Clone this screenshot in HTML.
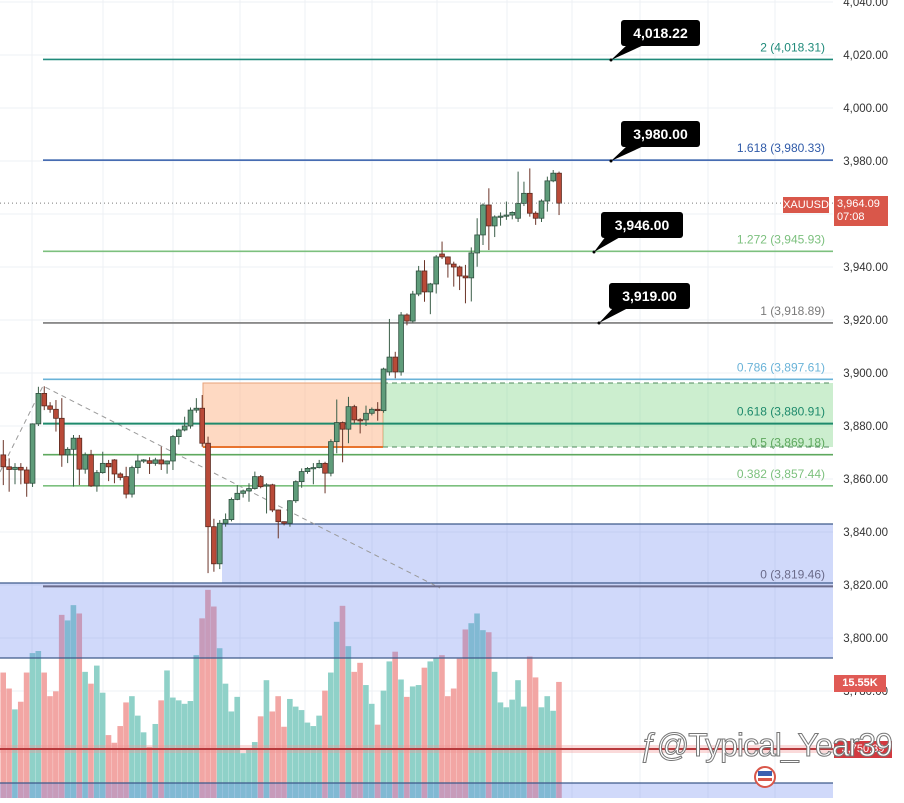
<!DOCTYPE html>
<html><head><meta charset="utf-8">
<style>
html,body{margin:0;padding:0;background:#fff;}
body{width:904px;height:798px;overflow:hidden;font-family:"Liberation Sans",sans-serif;}
svg text{font-family:"Liberation Sans",sans-serif;}
</style></head>
<body>
<svg id="chart" width="904" height="798" viewBox="0 0 904 798" xmlns="http://www.w3.org/2000/svg">
<g id="grid"></g>
<g id="vol"></g>
<g id="zones"></g>
<g id="fib"></g>
<g id="candles"></g>
<g id="axis"></g>
<g id="callouts"></g>
</svg>
<script>
const opens  = [3869.1,3864.6,3863.6,3864.4,3863.4,3858.4,3880.8,3892.3,3887.6,3886.3,3882.9,3869.1,3871.2,3875.4,3863.7,3869.1,3857.4,3862.4,3865.9,3867.2,3861.9,3860.9,3854.3,3864.3,3866.8,3866.9,3865.9,3867.2,3865.7,3866.8,3876,3878.5,3880,3886,3886.7,3873.5,3842,3828,3843.3,3844.7,3852.3,3854.6,3855.5,3856.4,3860.9,3857.5,3857.8,3848.3,3843.9,3843.3,3851.8,3859,3862.8,3864,3864.3,3865.9,3862.2,3874.1,3881.3,3878.8,3887.3,3882.4,3882.3,3884.8,3886.3,3885.8,3900.4,3906,3900.4,3921.9,3919.6,3929.8,3938.5,3930.6,3933.6,3944.9,3943.8,3941.1,3940,3936.6,3935.9,3945.3,3952.1,3963.4,3955.5,3958.9,3959.2,3959.6,3958.4,3964,3967.8,3960.3,3958.4,3964.9,3972.5,3975.4];
const closes = [3864.6,3863.6,3864.4,3863.4,3858.4,3880.8,3892.3,3887.6,3886.3,3882.9,3869.1,3871.2,3875.4,3863.7,3869.1,3857.4,3862.4,3865.9,3864.6,3861.9,3860.6,3854.3,3864.3,3866.8,3867.2,3865.9,3867.2,3865.7,3866.8,3876,3878.5,3880,3886,3886.7,3873.5,3842,3828,3843.3,3844.7,3852.3,3854.6,3855.5,3856.4,3860.9,3857.1,3857.8,3848.3,3843.9,3843.3,3851.8,3859,3862.8,3864,3864.3,3865.9,3862.2,3874.1,3881.3,3878.8,3887.3,3882.3,3882.3,3884.8,3886.3,3885.8,3901.5,3906,3900.4,3921.9,3919.6,3929.8,3938.5,3930.6,3933.6,3943.8,3943.8,3941.1,3940,3936.6,3935.9,3945.3,3952.1,3963.4,3955.5,3958.9,3959.2,3959.6,3960.6,3964,3967.8,3960.3,3958.4,3964.9,3972.5,3975.4,3964.09];
const highs  = [3874.7,3867.8,3866,3866,3864.6,3881,3894.8,3895,3889,3889.8,3890.5,3872,3876.6,3876.6,3870,3871,3863.4,3870.3,3867.2,3867.5,3862.5,3864.6,3865,3869.1,3867.5,3868.2,3868,3872.2,3867,3876.6,3879,3883.5,3887,3890.5,3891.7,3876,3845,3844.5,3847,3853,3857.7,3856,3858.4,3862.8,3861.5,3858.4,3858.2,3848.5,3844,3852,3859.5,3864,3864.5,3866,3867.2,3866.5,3875,3890,3881.7,3891,3888,3883,3887.7,3887,3889,3902,3920.4,3908,3923,3922.5,3931,3940.4,3942.6,3934,3944.5,3949.6,3944,3942,3940.5,3940.8,3947.4,3958.4,3964,3969.7,3959.5,3960.6,3964.7,3961,3976,3972.2,3977.2,3961,3965.5,3974.1,3976.6,3976];
const lows   = [3857.7,3855.2,3858,3858,3853.3,3857,3880,3886,3885,3877.9,3864.6,3866,3857.1,3857.7,3862,3857,3855.2,3862,3859.2,3858.4,3859.5,3852.7,3853,3862,3866,3861.9,3865,3863.4,3862,3863.4,3873,3878,3879,3885,3872.2,3824.5,3825,3826,3842,3844,3852,3853,3851.4,3856,3856.5,3847,3847.5,3837.6,3842.5,3842,3851,3856.7,3862,3858,3864,3854.6,3861,3869.7,3866.3,3873.5,3881,3877.2,3880,3884,3882,3885,3899,3898,3899,3918,3919,3929,3926.9,3922.2,3930,3943,3936,3932.6,3931.3,3926.3,3927,3940.1,3948.3,3946.4,3951.3,3955.6,3957.8,3958,3957,3963,3959,3955.9,3957,3960.9,3972,3959.6];
const volumes = [16.9,14.6,11.6,12.7,16.9,19.7,20.0,16.9,13.5,14.2,25.2,24.4,26.6,25.4,17.0,15.3,17.9,14.0,7.9,6.8,9.2,12.6,13.5,10.7,8.3,6.2,9.5,12.9,17.2,13.3,12.9,12.4,12.8,19.4,24.7,28.8,26.4,20.4,15.3,11.3,13.4,5.3,5.9,6.9,10.6,15.8,11.3,13.5,9.1,13.1,12.0,11.5,9.7,9.2,10.7,14.3,16.9,24.2,26.5,20.7,17.0,18.3,15.1,12.4,9.4,14.3,18.5,19.9,15.9,13.4,14.9,15.1,17.6,18.5,19.0,19.4,13.5,14.6,18.9,23.1,24.0,25.4,23.0,22.7,17.0,12.6,11.9,13.0,15.8,12.0,19.2,16.2,11.9,13.5,11.4,15.55];
const priceTicks = [4040,4020,4000,3980,3960,3940,3920,3900,3880,3860,3840,3820,3800,3780];
const fibRatios = ["2","1.618","1.272","1","0.786","0.618","0.5","0.382","0"];
const fibPrices = [4018.31,3980.33,3945.93,3918.89,3897.61,3880.91,3869.18,3857.44,3819.46];
const calloutPrices = [4018.22,3980.00,3946.00,3919.00];

const NS="http://www.w3.org/2000/svg";
const RIGHT=833;
function y(p){return 585-(p-3820)*2.65;}
function x(i){return 3.3+i*5.85;}
function vy(v){return 790-v*6.95;}
function fmt(p){return p.toLocaleString('en-US',{minimumFractionDigits:2,maximumFractionDigits:2});}
function mk(parent,tag,attrs){const e=document.createElementNS(NS,tag);for(const k in attrs)e.setAttribute(k,attrs[k]);parent.appendChild(e);return e;}

const grid=document.getElementById('grid');
[32,103,173,240,305,372,437,507,572,640,708,775].forEach(gx=>{
  const l=mk(grid,'line',{x1:gx,x2:gx,y1:0,y2:798,stroke:'#eef0f4','stroke-width':1});
  
  
});
priceTicks.forEach(p=>{
  const l=mk(grid,'line',{x1:0,x2:RIGHT,y1:y(p),y2:y(p),stroke:'#eef0f4','stroke-width':1});
  
  
});

const vol=document.getElementById('vol');
const n=Math.min(opens.length,closes.length,highs.length,lows.length);
for(let i=0;i<Math.min(n,volumes.length);i++){
  const up=closes[i]>=opens[i];
  const r=mk(vol,'rect',{x:x(i)-2.9,y:vy(volumes[i]),width:5.6,height:790-vy(volumes[i])+8,fill:up?'#8fd1c8':'#f2a6a4'});
  
  
}

const z=document.getElementById('zones');
function zone(name,a){const e=mk(z,a.tag||'rect',a);e.removeAttribute('tag');return e;}
zone('blue-zone-lower',{x:0,y:583,width:RIGHT,height:75,fill:'rgba(100,130,240,0.30)'});
zone('blue-zone-upper',{x:222,y:524,width:RIGHT-222,height:59,fill:'rgba(100,130,240,0.30)'});
zone('blue-zone-bottom',{x:0,y:783,width:RIGHT,height:15,fill:'rgba(100,130,240,0.30)'});
zone('blue-zone-top-line',{tag:'line',x1:222,x2:RIGHT,y1:524,y2:524,stroke:'#3d5a8a','stroke-width':1.2});
zone('blue-zone-line-583',{tag:'line',x1:0,x2:RIGHT,y1:583,y2:583,stroke:'#3d5a8a','stroke-width':1.2});
zone('blue-zone-line-658',{tag:'line',x1:0,x2:RIGHT,y1:658,y2:658,stroke:'#3d5a8a','stroke-width':1.2});
zone('blue-zone-line-783',{tag:'line',x1:0,x2:RIGHT,y1:783,y2:783,stroke:'#3d5a8a','stroke-width':1.2});
zone('support-band',{x:0,y:745,width:RIGHT,height:8,fill:'rgba(240,150,150,0.35)'});
zone('support-line',{tag:'line',x1:0,x2:RIGHT,y1:749,y2:749,stroke:'#b8393c','stroke-width':2});
zone('order-block-orange',{x:203,y:383,width:180,height:64,fill:'rgba(252,170,120,0.45)',stroke:'#e7a27a','stroke-width':1});
zone('order-block-orange-bottom',{tag:'line',x1:203,x2:383,y1:447,y2:447,stroke:'#e8742f','stroke-width':2});
zone('green-zone',{x:383,y:383,width:RIGHT-383,height:64,fill:'rgba(120,210,130,0.38)'});
zone('green-zone-top-dash',{tag:'line',x1:383,x2:RIGHT,y1:383,y2:383,stroke:'#4f8a5e','stroke-width':1,'stroke-dasharray':'5,4'});
zone('green-zone-bottom-dash',{tag:'line',x1:383,x2:RIGHT,y1:447,y2:447,stroke:'#4f8a5e','stroke-width':1,'stroke-dasharray':'5,4'});
zone('trend-dashed-up',{tag:'polyline',points:'0,472 43,386 440,588',fill:'none',stroke:'#9a9a9a','stroke-width':1,'stroke-dasharray':'5,4'});

const fib=document.getElementById('fib');
const fibColors=['#1f8a7a','#2f5aa8','#7cc07e','#7a7a7a','#6ab3d8','#1e8a6c','#5ea85e','#7cc07e','#6b6b8a'];
for(let i=0;i<fibPrices.length;i++){
  const yy=y(fibPrices[i]);
  const l=mk(fib,'line',{x1:43,x2:RIGHT,y1:yy,y2:yy,stroke:fibColors[i],'stroke-width':(i==5||i==8)?2:1.6});
  
  
  const t=mk(fib,'text',{x:825,y:yy-8,'text-anchor':'end','font-size':12,fill:fibColors[i]});
  t.textContent=fibRatios[i]+' ('+fmt(fibPrices[i])+')';
  
  
}

const cg=document.getElementById('candles');
for(let i=0;i<n;i++){
  const up=closes[i]>=opens[i];
  const cx=x(i);
  const w=mk(cg,'line',{x1:cx,x2:cx,y1:y(highs[i]),y2:y(lows[i]),stroke:up?'#3a5e48':'#6b3428','stroke-width':1});
  
  
  const top=y(Math.max(opens[i],closes[i])),bot=y(Math.min(opens[i],closes[i]));
  const b=mk(cg,'rect',{x:cx-2.4,y:top,width:4.8,height:Math.max(1.2,bot-top),fill:up?'#5f9c7a':'#b94a38',stroke:up?'#2f4f3f':'#5a2a20','stroke-width':0.8});
  
  
}
const last=closes[n-1];
const dl=mk(cg,'line',{x1:0,x2:RIGHT,y1:y(last),y2:y(last),stroke:'#7a7a7a','stroke-width':1,'stroke-dasharray':'1,3'});



const ax=document.getElementById('axis');
priceTicks.forEach(p=>{
  const t=mk(ax,'text',{x:888,y:y(p)+4,'text-anchor':'end','font-size':11.5,fill:'#333'});
  t.textContent=fmt(p);
  
  
});
</script>
<div style="position:absolute;left:783px;top:197px;width:46px;height:16px;background:#d9574a;color:#fff;font-size:11px;line-height:16px;text-align:center;">XAUUSD</div>
<div style="position:absolute;left:834px;top:196px;width:54px;height:30px;background:#d9574a;color:#fff;font-size:11px;line-height:13px;padding-left:3px;box-sizing:border-box;padding-top:2px;">3,964.09<br>07:08</div>
<div style="position:absolute;left:834px;top:675px;width:52px;height:17px;background:#e05a55;color:#fff;font-size:11px;font-weight:bold;line-height:17px;text-align:center;">15.55K</div>
<div style="position:absolute;left:834px;top:741px;width:58px;height:17px;background:#d2393f;color:#fff;font-size:11px;line-height:17px;text-align:center;">3,750.39</div>
<div style="position:absolute;left:621px;top:20px;width:79px;height:26px;background:#000;color:#fff;border-radius:3px;font-size:14px;font-weight:bold;line-height:26px;text-align:center;">4,018.22</div>
<div style="position:absolute;left:621px;top:121px;width:79px;height:26px;background:#000;color:#fff;border-radius:3px;font-size:14px;font-weight:bold;line-height:26px;text-align:center;">3,980.00</div>
<div style="position:absolute;left:601px;top:212px;width:82px;height:26px;background:#000;color:#fff;border-radius:3px;font-size:14px;font-weight:bold;line-height:26px;text-align:center;">3,946.00</div>
<div style="position:absolute;left:609px;top:283px;width:81px;height:26px;background:#000;color:#fff;border-radius:3px;font-size:14px;font-weight:bold;line-height:26px;text-align:center;">3,919.00</div>
<svg width="904" height="798" style="position:absolute;left:0;top:0;pointer-events:none">
<polygon points="628,44 646,44 611,60" fill="#000"/><circle cx="611" cy="60" r="1.5" fill="#000"/>
<polygon points="628,145 646,145 611,161" fill="#000"/><circle cx="611" cy="161" r="1.5" fill="#000"/>
<polygon points="606,236 622,236 594,252" fill="#000"/><circle cx="594" cy="252" r="1.5" fill="#000"/>
<polygon points="614,307 630,307 599,323" fill="#000"/><circle cx="599" cy="323" r="1.5" fill="#000"/>
<circle cx="765" cy="777" r="10" fill="#fff" stroke="#d9574a" stroke-width="2"/>
<rect x="758" y="771" width="14" height="5" fill="#3a5fb0"/><rect x="758" y="778" width="14" height="3" fill="#d9574a"/>
</svg>
<div style="position:absolute;left:640px;top:727px;font-size:32px;color:#fff;-webkit-text-stroke:1px #777;letter-spacing:-1px;white-space:nowrap;">ƒ@Typical_Year39</div>
</body></html>
